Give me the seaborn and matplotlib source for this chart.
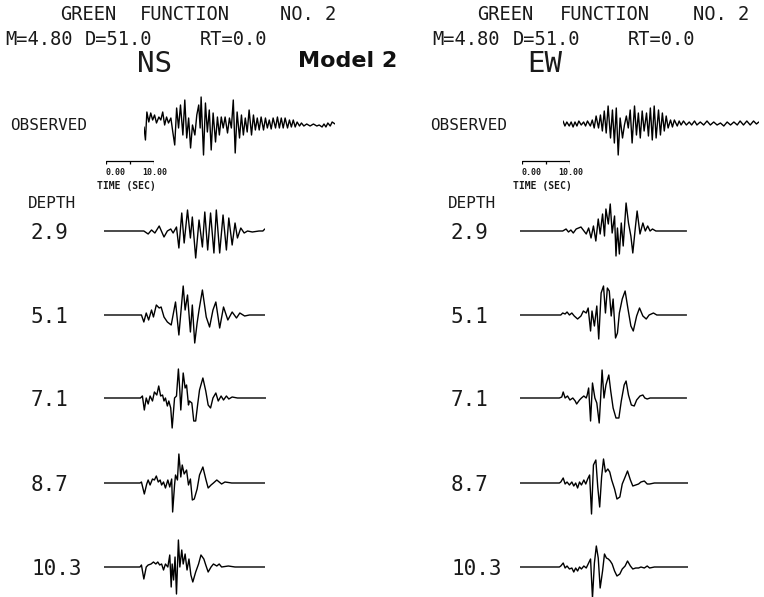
import matplotlib
matplotlib.use("Agg")
import matplotlib.pyplot as plt
import seaborn as sns
import pandas as pd

# ---------------- data: (time [s], amplitude) vertices ----------------
NS_OBS = [(0, -2), (0.3, -15), (0.6, 13), (1.0, 3), (1.4, 12), (1.8, 5), (2.2, 10), (2.6, 2), (3.1, 8),
          (3.5, 5), (3.9, 13), (4.3, 0), (4.7, 8), (5.1, 2), (5.6, 7), (6.0, -7), (6.4, -20), (6.8, 17),
          (7.2, -3), (7.6, 20), (8.1, -10), (8.5, 25), (8.9, -13), (9.3, 7), (9.7, -23), (10.1, 0),
          (10.6, -10), (11.0, 10), (11.4, 20), (11.7, -3), (11.9, 28), (12.4, -30), (12.8, 22), (13.2, -7),
          (13.6, 15), (14.0, -25), (14.4, 12), (14.9, -17), (15.3, 8), (15.7, -10), (16.1, 8), (16.5, -3),
          (16.9, 8), (17.4, -8), (17.8, 7), (18.2, -3), (18.6, 25), (19.0, -28), (19.4, 13), (19.9, -13),
          (20.3, 10), (20.7, -10), (21.1, 7), (21.5, -7), (21.9, 15), (22.4, -10), (22.8, 10), (23.2, -5),
          (23.6, 7), (24.0, -5), (24.4, 8), (24.9, -5), (25.3, 7), (25.7, -3), (26.1, 5), (26.5, -4),
          (26.9, 7), (27.4, -3), (27.8, 8), (28.2, -3), (28.6, 7), (29.0, -3), (29.4, 7), (29.9, -3),
          (30.3, 5), (30.7, -2), (31.1, 5), (31.5, -2), (31.9, 3), (32.4, -1), (32.8, 2), (33.3, -1),
          (33.9, 1), (34.6, -1), (35.3, 1), (36.0, -1), (36.5, 0), (37.1, -2), (37.5, 1), (37.9, -2),
          (38.3, 2), (38.8, -1), (39.2, 3), (39.8, 1)]

EW_OBS = [(0, 3), (0.4, -2), (0.8, 2), (1.3, -2), (1.7, 2), (2.1, -3), (2.5, 2), (2.9, -2), (3.3, 3),
          (3.8, -1), (4.3, 2), (4.7, -2), (5.1, 3), (5.7, -2), (6.1, 4), (6.5, -4), (6.9, 8), (7.4, -4),
          (7.8, 9), (8.2, -7), (8.6, 13), (9.0, -9), (9.4, 18), (9.9, -14), (10.3, 14), (10.7, -19),
          (11.1, 16), (11.5, -31), (11.9, 6), (12.4, -14), (12.8, -1), (13.2, 8), (13.6, -4), (14.0, 14),
          (14.4, -19), (14.9, 18), (15.3, -11), (15.7, 11), (16.1, -14), (16.5, 13), (16.9, -7), (17.4, 11),
          (17.8, -12), (18.2, 16), (18.6, -16), (19.0, 18), (19.4, -14), (19.9, 14), (20.3, -11), (20.7, 11),
          (21.1, -7), (21.5, 8), (21.9, -4), (22.4, 4), (22.8, -3), (23.2, 4), (23.8, -2), (24.2, 3),
          (24.6, -1), (25.1, 3), (25.7, -1), (26.3, 2), (26.8, -1), (27.4, 3), (27.9, -1), (28.6, 2),
          (29.3, -1), (30.0, 3), (30.7, -1), (31.4, 2), (32.1, -1), (32.8, 1), (33.5, -2), (34.2, 2),
          (34.9, -1), (35.6, 2), (36.3, -1), (36.9, 3), (37.6, -1), (38.3, 3), (39.0, -1), (39.7, 3),
          (40.3, 0), (40.8, 2)]

NS_29 = [(0, 0), (8.3, 0), (9.2, -3), (9.9, 1), (10.6, -2), (11.5, 5), (12.5, -6), (13.2, 0), (13.9, 2),
         (14.4, -2), (15.1, 4), (15.6, -17), (16.2, 18), (16.7, -12), (17.4, 21), (18.0, -7), (18.4, 14),
         (19.1, -27), (19.8, 11), (20.5, -16), (21.0, 19), (21.6, -19), (22.2, 18), (22.9, -22), (23.4, 21),
         (24.1, -22), (24.8, 16), (25.5, -19), (26.0, 13), (26.7, -14), (27.3, 8), (27.8, -7), (28.5, 3),
         (29.2, -2), (29.9, 0), (30.9, -1), (32.3, 0), (33.1, 0), (33.5, 2)]
NS_51 = [(0, 0), (7.8, 0), (8.3, -7), (8.8, 2), (9.3, -5), (9.9, 5), (10.3, -2), (10.9, 10), (11.5, 7),
         (11.9, 8), (12.5, -2), (13.2, -7), (14.0, -10), (14.9, 13), (15.6, -20), (16.5, 29), (16.9, 5),
         (17.4, 20), (18.0, -17), (18.4, 10), (18.9, -28), (19.4, -8), (19.8, 5), (20.5, 25), (21.3, -2),
         (22.0, -12), (22.7, 5), (23.3, 13), (24.1, -13), (24.9, 8), (25.8, -5), (26.7, 3), (27.6, -3),
         (28.3, 2), (29.3, -1), (30.3, 0), (33.5, 0)]
NS_71 = [(0, 0), (7.6, 0), (8.0, 2), (8.4, -12), (8.8, 0), (9.2, -6), (9.6, 2), (10.1, -3), (10.5, 6),
         (11.0, 3), (11.4, 12), (11.8, 2), (12.2, 3), (12.5, -3), (12.8, 0), (13.2, -8), (13.5, -3),
         (13.9, -10), (14.2, -30), (14.7, 0), (15.1, 2), (15.5, 29), (15.8, 7), (16.0, -12), (16.5, 25),
         (16.9, 10), (17.2, 13), (17.6, -7), (17.8, -3), (18.3, -5), (18.7, -23), (19.1, -23), (19.5, -7),
         (19.9, 8), (20.6, 20), (21.2, 7), (21.7, -7), (22.2, -10), (22.7, 0), (23.3, 5), (23.8, -3),
         (24.4, 2), (24.9, -2), (25.5, 2), (26.0, -1), (26.7, 1), (27.8, 0), (33.7, 0)]
NS_87 = [(0, 0), (7.5, 0), (7.8, 1), (8.4, -11), (8.9, -1), (9.2, 3), (9.6, -2), (10.1, 4), (10.5, 3),
         (10.9, 7), (11.3, 1), (11.7, 3), (12.0, -2), (12.4, 1), (12.8, -5), (13.3, 3), (13.7, -4),
         (14.1, 4), (14.3, -29), (14.7, -2), (14.9, 8), (15.3, 3), (15.6, 29), (16.0, 6), (16.3, 18),
         (16.7, 9), (17.2, 13), (17.6, -2), (18.0, 4), (18.4, -17), (18.8, -16), (19.4, -6), (19.9, 8),
         (20.6, 16), (21.2, 4), (21.7, -5), (22.3, -2), (22.8, 0), (23.5, 3), (24.0, 1), (24.5, -1),
         (25.2, 1), (26.6, 0), (33.5, 0)]
NS_103 = [(0, 0), (7.5, 0), (7.8, 2), (8.3, -12), (8.8, 0), (9.2, 2), (9.8, 3), (10.3, 5), (10.8, 3),
          (11.2, 5), (11.6, 2), (12.0, 3), (12.4, -3), (12.8, 3), (13.3, 0), (13.7, 12), (14.0, -20),
          (14.2, 3), (14.5, -13), (14.8, 10), (15.1, -27), (15.5, 27), (15.8, 0), (16.2, 17), (16.5, 3),
          (16.9, 13), (17.3, -3), (17.7, 8), (18.1, -8), (18.5, -15), (19.1, -5), (19.7, 3), (20.2, 12),
          (20.8, 8), (21.2, 2), (21.7, -5), (22.3, 0), (22.8, 3), (23.5, 1), (24.0, 3), (24.5, 0),
          (25.9, 1), (27.3, 0), (33.5, 0)]

EW_29 = [(0, 0), (8.9, 0), (9.6, 2), (10.1, -1), (10.6, 1), (11.1, -2), (11.7, 2), (12.7, 4), (13.8, -3),
         (14.3, 3), (14.8, -7), (15.3, 5), (15.8, -10), (16.3, 12), (16.7, -3), (17.2, 17), (17.6, -5),
         (17.9, 22), (18.4, 7), (18.8, 27), (19.2, -2), (19.7, 15), (20.0, -25), (20.3, 3), (20.7, -23),
         (21.1, 8), (21.5, -15), (22.1, 28), (22.6, 8), (23.1, -5), (23.5, -22), (24.0, 2), (24.4, 20),
         (25.0, -3), (25.6, 8), (26.1, 0), (26.6, 5), (27.1, 0), (27.6, 2), (28.3, 0), (34.7, 0)]
EW_51 = [(0, 0), (8.5, 0), (8.9, 2), (9.4, 1), (9.8, 3), (10.3, 0), (10.8, 2), (11.3, -1), (12.0, -4),
         (12.7, -1), (13.2, 4), (13.8, 2), (14.2, 7), (14.7, -16), (15.0, 4), (15.5, -11), (16.0, 9),
         (16.4, -24), (16.9, 22), (17.4, 29), (17.8, 2), (18.2, 27), (18.6, 24), (19.0, -1), (19.4, 16),
         (19.9, -23), (20.3, -18), (20.7, 2), (21.3, 16), (21.9, 24), (22.5, 6), (23.1, -11), (23.6, -16),
         (24.3, -1), (24.9, 7), (25.6, -1), (26.3, -4), (26.9, 0), (27.8, 2), (28.5, 0), (30.4, 0), (34.7, 0)]
EW_71 = [(0, 0), (8.2, 0), (8.7, 1), (9.0, 6), (9.4, 0), (9.9, 2), (10.4, -2), (11.0, 0), (11.5, -3),
         (11.8, -6), (12.4, -2), (12.8, 0), (13.3, 2), (13.8, 0), (14.0, 3), (14.3, 10), (14.7, -23),
         (15.1, 15), (15.6, 0), (16.0, -5), (16.5, -25), (16.8, 0), (17.1, 28), (17.5, 0), (17.9, 13),
         (18.5, 23), (18.9, 7), (19.4, -10), (20.0, -20), (20.6, -20), (21.1, -3), (21.7, 13), (22.1, 17),
         (22.6, 3), (23.2, -7), (23.8, -8), (24.3, -2), (25.0, 2), (25.6, 3), (26.0, 0), (26.5, -1),
         (27.1, 0), (34.7, 0)]
EW_87 = [(0, 0), (8.2, 0), (8.5, 1), (9.0, 5), (9.4, -1), (9.8, 1), (10.3, -2), (10.8, 1), (11.2, -3),
         (11.6, 0), (12.0, -5), (12.4, 1), (12.8, -2), (13.3, 3), (13.7, -1), (14.1, 4), (14.5, 8),
         (14.9, -31), (15.3, 18), (15.8, 23), (16.2, -4), (16.6, -24), (17.0, 6), (17.4, 24), (17.8, 11),
         (18.3, 14), (18.7, 11), (19.1, 3), (19.7, -6), (20.2, -16), (20.8, -14), (21.3, -1), (21.9, 6),
         (22.4, 12), (23.0, 3), (23.5, -3), (24.1, -2), (24.7, -1), (25.2, 1), (25.9, 2), (26.5, -1),
         (27.0, -1), (28.0, 0), (35.1, 0)]
EW_103 = [(0, 0), (8.2, 0), (8.5, 1), (9.0, 4), (9.4, -1), (9.8, 1), (10.3, -2), (10.8, -1), (11.2, -5),
          (11.6, -1), (12.0, -4), (12.4, 0), (12.8, -2), (13.3, 1), (13.8, -1), (14.2, 3), (14.7, 8),
          (15.1, -31), (15.5, 4), (15.9, 21), (16.3, 9), (16.7, -21), (17.2, -4), (17.6, 13), (18.0, 9),
          (18.4, 8), (18.8, 6), (19.2, 3), (19.7, -4), (20.2, -9), (20.8, -7), (21.3, -2), (21.9, 1),
          (22.4, 6), (23.0, 1), (23.5, -2), (24.1, -1), (24.7, -1), (25.2, 0), (25.9, -1), (26.5, 1),
          (27.0, -1), (28.0, 0), (35.1, 0)]

DEPTHS = ["2.9", "5.1", "7.1", "8.7", "10.3"]
NS_SYN = [NS_29, NS_51, NS_71, NS_87, NS_103]
EW_SYN = [EW_29, EW_51, EW_71, EW_87, EW_103]
SCALE_TICKS = [0, 5, 10]
SCALE_LABELS = ["0.00", "10.00"]
HEADER_1 = ["GREEN", "FUNCTION", "NO. 2"]
HEADER_2 = ["M=4.80", "D=51.0", "RT=0.0"]
COMPONENTS = ["NS", "EW"]
MODEL = "Model 2"

# ---------------- layout (pixels of a 764x597 canvas) ----------------
W, H = 764, 597
PX_PER_S = 4.8
LEFT_OX, RIGHT_OX = 0, 420
SYN_BASE = [231, 315, 398, 483, 567]

sns.set_theme(style="white")
plt.rcParams['font.family'] = ['DejaVu Sans Mono', 'DejaVu Sans']

fig = plt.figure(figsize=(W / 100, H / 100), dpi=100)
bg = fig.add_axes([0, 0, 1, 1])
bg.set_xlim(0, W)
bg.set_ylim(H, 0)
bg.axis('off')


def trace_axes(x0, y0, dur, half=40):
    ax = fig.add_axes([x0 / W, 1 - (y0 + half) / H, dur * PX_PER_S / W, 2 * half / H])
    ax.set_xlim(0, dur)
    ax.set_ylim(-half, half)
    ax.axis('off')
    return ax


def draw_trace(trace, x0, y0):
    df = pd.DataFrame(trace, columns=['t', 'amp'])
    ax = trace_axes(x0, y0, df['t'].max())
    sns.lineplot(data=df, x='t', y='amp', ax=ax, color='black', lw=1.0,
                 estimator=None, sort=False)
    ax.set_xlim(0, df['t'].max())
    ax.axis('off')
    return ax


def scale_bar(x0, y0):
    ax = trace_axes(x0, y0, SCALE_TICKS[-1], half=6)
    df = pd.DataFrame({'t': [SCALE_TICKS[0], SCALE_TICKS[-1]], 'v': [0, 0]})
    sns.lineplot(data=df, x='t', y='v', ax=ax, color='black', lw=0.9, estimator=None)
    ax.vlines(SCALE_TICKS, -3, 0, color='black', lw=0.9)
    ax.set_ylim(-6, 6)
    ax.axis('off')


txt = dict(color='#1a1a1a', va='baseline', ha='left')

for side, ox in enumerate([LEFT_OX, RIGHT_OX]):
    hx = [60, 140, 280] if side == 0 else [477, 560, 693]
    for word, x in zip(HEADER_1, hx):
        bg.text(x, 20, word, fontsize=13.5, **txt)
    mx = [5, 85, 200] if side == 0 else [432, 513, 628]
    for word, x in zip(HEADER_2, mx):
        bg.text(x, 45, word, fontsize=13.5, **txt)
    bg.text(137 if side == 0 else 527, 72, COMPONENTS[side], fontsize=21, **txt)
    bg.text(10 + ox, 130, "OBSERVED", fontsize=11.5, **txt)
    # time scale bar
    bx = 106 if side == 0 else 522
    scale_bar(bx, 161)
    bg.text(bx, 175, SCALE_LABELS[0], fontsize=6, fontweight='bold', **txt)
    bg.text(bx + 36, 175, SCALE_LABELS[1], fontsize=6, fontweight='bold', **txt)
    bg.text(bx - 9, 189, "TIME (SEC)", fontsize=7, fontweight='bold', **txt)
    bg.text(28 + ox, 208, "DEPTH", fontsize=11.5, **txt)
    syn = NS_SYN if side == 0 else EW_SYN
    sx = 104 if side == 0 else 520
    for d, tr, yb in zip(DEPTHS, syn, SYN_BASE):
        bg.text(31 + ox, yb + 8, d, fontsize=15, **txt)
        draw_trace(tr, sx, yb)

draw_trace(NS_OBS, 144, 125)
draw_trace(EW_OBS, 563, 124)

bg.text(397, 67, MODEL, fontsize=16, fontweight='bold', family='DejaVu Sans',
        color='#111111', va='baseline', ha='right')

fig.savefig("out.png", dpi=100)
